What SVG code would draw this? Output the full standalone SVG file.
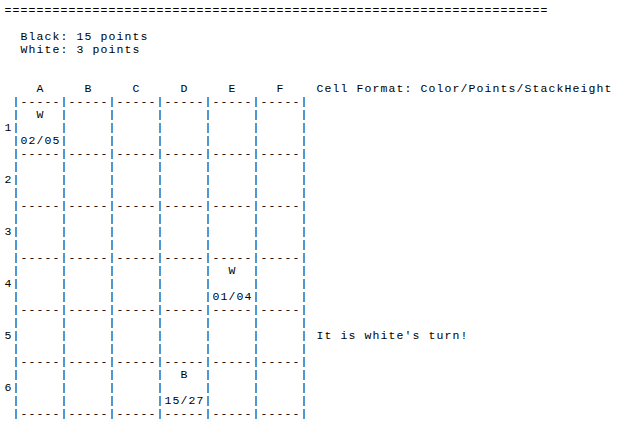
<svg xmlns="http://www.w3.org/2000/svg" width="630" height="425" viewBox="0 0 630 425" xml:space="preserve">
<style>
text { font-family: "Liberation Mono", "DejaVu Sans Mono", monospace; font-size: 11.5px; letter-spacing: 1.1px; fill: #000; white-space: pre; }
</style>
<rect width="630" height="425" fill="#fff"/>
<g id="header">
<text x="4.5" y="14">====================================================================</text>
<text x="4.5" y="40"><tspan x="4.5" y="40">  Black: 15 points</tspan><tspan x="4.5" y="53">  White: 3 points</tspan></text>
</g>
<g id="board">
<text x="4.5" y="92"><tspan x="4.5" y="92">    A     B     C     D     E     F    Cell Format: Color/Points/StackHeight</tspan><tspan x="4.5" y="105"> |-----|-----|-----|-----|-----|-----|</tspan><tspan x="4.5" y="118"> |  W  |     |     |     |     |     |</tspan><tspan x="4.5" y="131">1|     |     |     |     |     |     |</tspan><tspan x="4.5" y="144"> |02/05|     |     |     |     |     |</tspan><tspan x="4.5" y="157"> |-----|-----|-----|-----|-----|-----|</tspan><tspan x="4.5" y="170"> |     |     |     |     |     |     |</tspan><tspan x="4.5" y="183">2|     |     |     |     |     |     |</tspan><tspan x="4.5" y="196"> |     |     |     |     |     |     |</tspan><tspan x="4.5" y="209"> |-----|-----|-----|-----|-----|-----|</tspan><tspan x="4.5" y="222"> |     |     |     |     |     |     |</tspan><tspan x="4.5" y="235">3|     |     |     |     |     |     |</tspan><tspan x="4.5" y="248"> |     |     |     |     |     |     |</tspan><tspan x="4.5" y="261"> |-----|-----|-----|-----|-----|-----|</tspan><tspan x="4.5" y="274"> |     |     |     |     |  W  |     |</tspan><tspan x="4.5" y="287">4|     |     |     |     |     |     |</tspan><tspan x="4.5" y="300"> |     |     |     |     |01/04|     |</tspan><tspan x="4.5" y="313"> |-----|-----|-----|-----|-----|-----|</tspan><tspan x="4.5" y="326"> |     |     |     |     |     |     |</tspan><tspan x="4.5" y="339">5|     |     |     |     |     |     | It is white's turn!</tspan><tspan x="4.5" y="352"> |     |     |     |     |     |     |</tspan><tspan x="4.5" y="365"> |-----|-----|-----|-----|-----|-----|</tspan><tspan x="4.5" y="378"> |     |     |     |  B  |     |     |</tspan><tspan x="4.5" y="391">6|     |     |     |     |     |     |</tspan><tspan x="4.5" y="404"> |     |     |     |15/27|     |     |</tspan><tspan x="4.5" y="417"> |-----|-----|-----|-----|-----|-----|</tspan></text>
</g>
</svg>
